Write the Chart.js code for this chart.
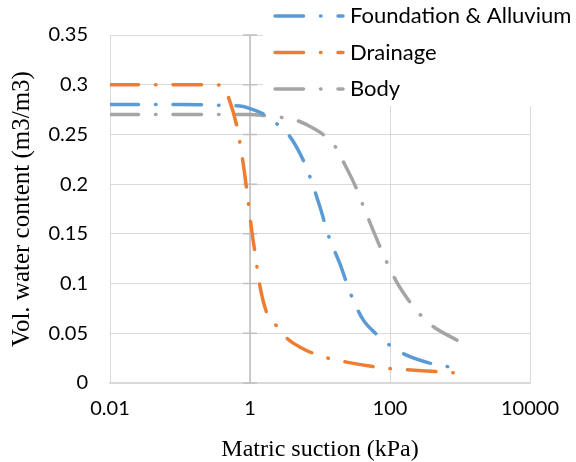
<!DOCTYPE html>
<html>
<head>
<meta charset="utf-8">
<script src="https://cdn.jsdelivr.net/npm/chart.js@4/dist/chart.umd.min.js"></script>
<style>
  html, body { margin: 0; padding: 0; background: #fff; }
  #wrap { width: 576px; height: 462px; }
</style>
</head>
<body>
<div id="wrap"><canvas id="swccChart" width="576" height="462"></canvas></div>
<script>
// matric suction (kPa) / volumetric water content (m3/m3)
var foundationSuction = [0.01, 0.1, 0.5, 0.8, 1, 1.6, 2.4, 3.7, 5.5, 7.2, 10, 13.4, 19, 28, 41, 62, 95, 150, 370, 667];
var foundationWater   = [0.28, 0.28, 0.279, 0.278, 0.276, 0.27, 0.261, 0.248, 0.227, 0.207, 0.177, 0.147, 0.121, 0.088, 0.064, 0.05, 0.039, 0.03, 0.02, 0.0165];

var drainageSuction = [0.01, 0.1, 0.3, 0.42, 0.5, 0.65, 0.79, 0.9, 1.07, 1.18, 1.39, 1.75, 2.43, 3.5, 5.2, 7.9, 13, 24, 57, 103, 175, 470, 800];
var drainageWater   = [0.3, 0.3, 0.3, 0.298, 0.286, 0.258, 0.223, 0.194, 0.151, 0.131, 0.097, 0.07, 0.057, 0.044, 0.036, 0.03, 0.025, 0.021, 0.0165, 0.0144, 0.0134, 0.0114, 0.0104];

var bodySuction = [0.01, 0.5, 1, 1.6, 2.9, 4.7, 7.2, 11, 16.4, 21, 32, 40, 57, 88, 126, 181, 260, 410, 906];
var bodyWater   = [0.27, 0.27, 0.27, 0.269, 0.267, 0.264, 0.258, 0.25, 0.238, 0.224, 0.198, 0.181, 0.154, 0.123, 0.101, 0.084, 0.07, 0.057, 0.043];

var seriesNames = ["Foundation & Alluvium", "Drainage", "Body"];
var xTickValues = [0.01, 1, 100, 10000];
var yMin = 0, yMax = 0.35, yStep = 0.05;
var axisCross = 1; // vertical axis sits at 1 kPa

var colors = ["#5B9BD5", "#ED7D31", "#A5A5A5"];
var dashDot = [28.5, 17, 0.5, 17];

function pairUp(xs, ys) {
    return xs.map(function (x, i) {
        return { x: x, y: ys[i] };
    });
}

function makeSet(name, xs, ys, color) {
    return {
        label: name,
        data: pairUp(xs, ys),
        borderColor: color,
        backgroundColor: color,
        borderWidth: 3.5,
        borderDash: dashDot,
        borderCapStyle: "round",
        pointRadius: 0,
        fill: false,
        cubicInterpolationMode: "monotone",
    };
}

// vertical axis line at x = 1 with cross tick marks, plus the boxed legend
var extras = {
    id: "extras",
    beforeDatasetsDraw: function (chart) {
        var ctx = chart.ctx;
        var xs = chart.scales.x, ys = chart.scales.y;
        var px = xs.getPixelForValue(axisCross);
        ctx.save();
        ctx.strokeStyle = "#BFBFBF";
        ctx.lineWidth = 1.5;
        ctx.beginPath();
        ctx.moveTo(px, ys.top);
        ctx.lineTo(px, ys.bottom);
        ys.ticks.forEach(function (t) {
            var py = ys.getPixelForValue(t.value);
            ctx.moveTo(px - 7, py);
            ctx.lineTo(px + 7, py);
        });
        ctx.stroke();
        ctx.restore();
    },
    afterDraw: function (chart) {
        var ctx = chart.ctx;
        ctx.save();
        ctx.fillStyle = "#fff";
        ctx.fillRect(263, 0, 313, 106);
        chart.data.datasets.forEach(function (ds, i) {
            var y = 16 + i * 36.5;
            ctx.strokeStyle = ds.borderColor;
            ctx.lineWidth = ds.borderWidth;
            ctx.lineCap = "round";
            ctx.setLineDash(ds.borderDash);
            ctx.beginPath();
            ctx.moveTo(275, y);
            ctx.lineTo(343, y);
            ctx.stroke();
            ctx.setLineDash([]);
            ctx.fillStyle = "#000";
            ctx.font = "22px Lato";
            ctx.textBaseline = "middle";
            ctx.textAlign = "left";
            ctx.fillText(ds.label, 350, y);
        });
        ctx.restore();
    },
};

var ctx1 = document.getElementById("swccChart").getContext("2d");

let swccChart = new Chart(ctx1, {
    type: "line",
    data: {
        datasets: [
            makeSet(seriesNames[0], foundationSuction, foundationWater, colors[0]),
            makeSet(seriesNames[1], drainageSuction, drainageWater, colors[1]),
            makeSet(seriesNames[2], bodySuction, bodyWater, colors[2]),
        ],
    },
    options: {
        responsive: false,
        animation: false,
        devicePixelRatio: 1,
        layout: { padding: { top: 35, right: 46, bottom: 0, left: 0 } },
        plugins: {
            legend: { display: false },
            tooltip: { enabled: false },
        },
        scales: {
            x: {
                type: "logarithmic",
                min: 0.01,
                max: 10000,
                afterBuildTicks: function (axis) {
                    axis.ticks = xTickValues.map(function (v) {
                        return { value: v };
                    });
                },
                afterFit: function (axis) {
                    axis.height = 79;
                },
                grid: { color: "#D9D9D9", lineWidth: 1, drawTicks: false },
                border: { color: "#D9D9D9", width: 1.5 },
                ticks: {
                    color: "#000",
                    font: { family: "Lato", size: 20 },
                    padding: 14,
                    maxRotation: 0,
                    autoSkip: false,
                    callback: function (v) {
                        return String(v);
                    },
                },
                title: {
                    display: true,
                    text: "Matric suction (kPa)",
                    color: "#000",
                    font: { family: "Liberation Serif", size: 24 },
                    padding: { top: 0, bottom: -2 },
                },
            },
            y: {
                min: yMin,
                max: yMax,
                afterFit: function (axis) {
                    axis.width = 110;
                },
                grid: { color: "#D9D9D9", lineWidth: 1, drawTicks: false },
                border: { color: "#D9D9D9", width: 1 },
                ticks: {
                    stepSize: yStep,
                    color: "#000",
                    font: { family: "Lato", size: 20 },
                    padding: 22,
                    callback: function (v) {
                        return String(Number(v.toFixed(2)));
                    },
                },
                title: {
                    display: true,
                    text: "Vol. water content (m3/m3)",
                    color: "#000",
                    font: { family: "Liberation Serif", size: 25 },
                    padding: { top: 7, bottom: 0 },
                },
            },
        },
    },
    plugins: [extras],
});
</script>
</body>
</html>
